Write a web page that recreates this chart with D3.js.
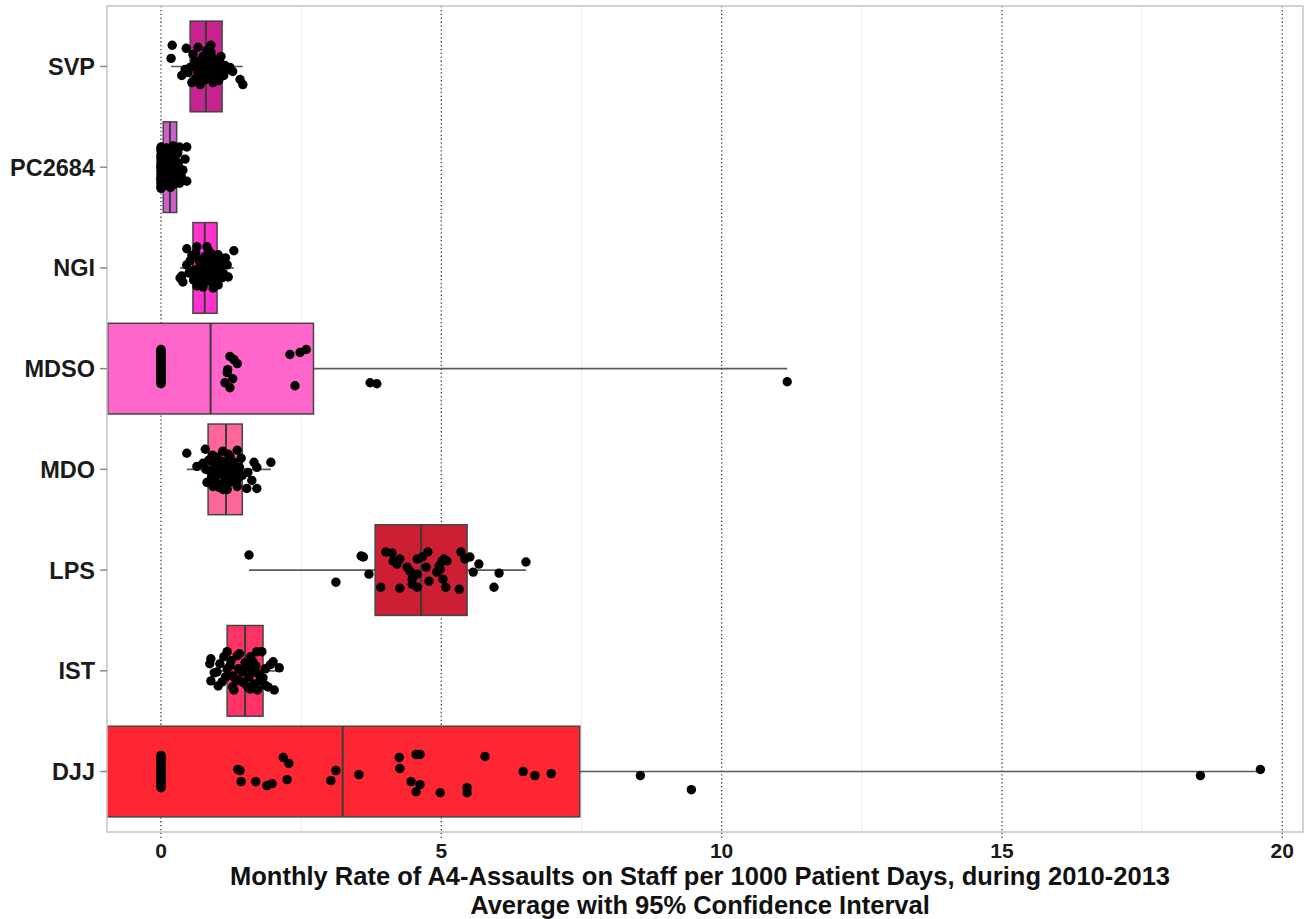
<!DOCTYPE html>
<html>
<head>
<meta charset="utf-8">
<script src="https://cdn.jsdelivr.net/npm/d3@7"></script>
<style>
  html, body { margin: 0; padding: 0; background: #ffffff; }
  svg { display: block; }
  text { font-family: "Liberation Sans", Arial, Helvetica, sans-serif; font-weight: bold; }
</style>
</head>
<body>
<svg id="chart" width="1313" height="919"></svg>
<script>
// Facilities, top to bottom
const categories = ["SVP", "PC2684", "NGI", "MDSO", "MDO", "LPS", "IST", "DJJ"];

// Fill colour of each facility's box
const fills = ["#c8238f", "#cc5fcc", "#ff33cc", "#ff66cc", "#ff6699", "#cc1f33", "#ff3366", "#ff2633"];

// Average monthly rate and its 95% confidence interval
const means = [0.80, 0.16, 0.78, 0.885, 1.16, 4.64, 1.50, 3.24];
const ciLow = [0.52, 0.04, 0.57, -0.95, 0.84, 3.82, 1.18, -0.98];
const ciHigh = [1.09, 0.28, 1.00, 2.72, 1.45, 5.46, 1.82, 7.47];

// Monthly rates: [rate, vertical jitter as a fraction of the category step]
const svpRates = [[0.20,-0.21],[0.18,-0.08],[0.45,-0.18],[0.66,-0.19],[0.89,-0.21],[0.57,-0.12],[0.75,-0.10],[0.37,0.09],[0.55,0.16],[0.70,0.18],[0.93,0.16],[1.05,-0.04],[1.19,0.03],[1.41,0.13],[1.46,0.18],[1.02,-0.05],[0.61,-0.05],[0.70,-0.01],[0.78,-0.07],[0.84,0.01],[0.87,0.05],[0.96,-0.02],[0.66,0.05],[0.73,0.11],[0.82,0.09],[0.91,-0.09],[1.00,0.07],[1.09,0.03],[1.14,-0.01],[0.52,0.01],[0.48,0.06],[0.62,0.12],[0.77,0.03],[0.95,0.12],[1.03,0.14],[0.86,-0.03],[0.71,-0.06],[0.80,0.13],[0.59,-0.01],[1.12,0.09],[1.23,0.01],[0.43,0.03],[0.89,-0.14],[0.98,0.02],[0.68,0.08],[0.82,-0.16],[1.07,-0.10],[1.28,0.05]];

const pc2684Rates = [[0,-0.20],[0,-0.16],[0,-0.12],[0,-0.08],[0,-0.05],[0,-0.02],[0,0.01],[0,0.04],[0,0.07],[0,0.10],[0,0.13],[0,0.16],[0,0.19],[0,0.21],[0,-0.18],[0,-0.10],[0,0.00],[0,0.12],[0.05,-0.14],[0.08,0.18],[0.09,-0.03],[0.10,0.09],[0.10,-0.19],[0.12,0.02],[0.12,0.15],[0.14,-0.11],[0.15,0.06],[0.15,-0.06],[0.17,0.20],[0.18,-0.16],[0.18,0.11],[0.20,-0.01],[0.20,0.08],[0.22,-0.21],[0.23,0.17],[0.25,-0.09],[0.26,0.04],[0.28,0.13],[0.30,-0.14],[0.32,0.00],[0.33,-0.20],[0.36,0.09],[0.30,-0.04],[0.33,0.16],[0.39,0.03],[0.43,-0.08],[0.46,0.14],[0.46,-0.20]];

const ngiRates = [[1.30,-0.17],[0.37,0.08],[0.34,0.10],[0.39,0.14],[0.46,-0.19],[0.64,-0.21],[0.82,-0.21],[1.02,-0.13],[1.18,-0.03],[0.52,-0.07],[0.70,0.15],[1.02,0.17],[0.87,0.10],[0.46,-0.03],[0.55,-0.12],[0.60,0.02],[0.62,-0.15],[0.66,0.06],[0.68,-0.08],[0.72,0.11],[0.74,-0.02],[0.76,0.04],[0.78,-0.11],[0.80,0.08],[0.82,0.00],[0.84,0.13],[0.86,-0.06],[0.88,0.05],[0.90,-0.14],[0.92,0.12],[0.94,-0.01],[0.96,0.07],[0.98,-0.09],[1.00,0.16],[1.04,0.02],[1.06,-0.06],[1.08,0.10],[1.10,-0.02],[1.12,0.06],[1.15,-0.10],[0.58,0.12],[0.64,0.18],[0.70,-0.04],[0.75,0.19],[0.85,-0.17],[0.93,0.20],[1.20,0.09],[0.50,0.05]];

const mdsoRates = [[0,-0.19],[0,-0.18],[0,-0.16],[0,-0.15],[0,-0.13],[0,-0.12],[0,-0.10],[0,-0.09],[0,-0.07],[0,-0.06],[0,-0.04],[0,-0.03],[0,-0.01],[0,0.00],[0,0.02],[0,0.03],[0,0.05],[0,0.06],[0,0.08],[0,0.09],[0,0.11],[0,0.12],[0,0.14],[0,0.15],[0,-0.17],[0,-0.08],[0,0.01],[0,0.10],[1.23,-0.12],[1.36,-0.05],[1.30,-0.09],[1.18,0.04],[1.19,0.01],[1.28,0.10],[1.14,0.14],[1.23,0.19],[2.30,-0.14],[2.48,-0.16],[2.59,-0.19],[2.39,0.17],[3.73,0.14],[3.85,0.15],[11.17,0.13]];

const mdoRates = [[0.46,-0.16],[1.96,-0.07],[1.66,-0.07],[1.71,-0.02],[1.55,0.03],[1.62,0.11],[1.53,0.19],[1.71,0.19],[1.36,-0.19],[1.36,0.17],[0.79,-0.20],[0.64,-0.03],[0.75,-0.06],[0.82,0.13],[0.93,0.17],[1.11,0.20],[1.18,0.20],[1.23,-0.13],[1.43,-0.11],[0.85,-0.09],[0.88,0.02],[0.90,0.08],[0.95,-0.04],[0.97,0.12],[1.00,-0.12],[1.02,0.05],[1.05,-0.01],[1.07,0.15],[1.09,-0.08],[1.12,0.03],[1.14,0.10],[1.16,-0.05],[1.18,0.07],[1.20,-0.15],[1.22,0.13],[1.25,0.00],[1.27,0.09],[1.30,-0.07],[1.32,0.04],[1.35,0.12],[1.40,-0.02],[1.45,0.06],[0.80,0.00],[0.92,-0.14],[1.10,-0.18],[1.38,0.08],[0.98,0.03],[1.04,0.18]];

const lpsRates = [[1.57,-0.15],[3.12,0.12],[3.57,-0.14],[3.61,-0.13],[3.71,0.04],[3.92,0.17],[4.01,-0.18],[4.12,-0.17],[4.14,-0.09],[4.21,-0.06],[4.26,-0.11],[4.26,0.18],[4.39,-0.03],[4.44,0.01],[4.50,0.06],[4.48,0.14],[4.57,0.17],[4.57,0.04],[4.57,-0.11],[4.66,-0.13],[4.76,-0.18],[4.73,-0.03],[4.78,0.11],[4.92,0.02],[4.96,-0.04],[5.01,-0.09],[5.05,-0.11],[5.10,-0.09],[5.03,0.09],[5.08,0.17],[5.32,0.19],[5.35,-0.18],[5.42,-0.11],[5.51,-0.13],[5.57,0.02],[5.67,-0.06],[5.94,0.17],[6.03,0.03],[6.51,-0.08],[4.48,0.09],[4.98,-0.01]];

const istRates = [[0.89,-0.12],[0.87,-0.07],[0.89,0.10],[1.09,0.11],[1.18,-0.19],[1.36,-0.15],[1.23,-0.05],[1.80,-0.19],[1.71,-0.19],[2.00,-0.09],[2.11,-0.03],[2.02,0.19],[1.91,0.16],[1.77,0.10],[1.59,0.18],[1.55,0.16],[1.28,0.16],[1.41,0.10],[1.05,-0.07],[1.00,0.01],[1.28,0.05],[1.64,-0.09],[1.86,-0.02],[1.62,0.01],[1.53,-0.04],[1.45,0.01],[1.18,-0.02],[1.15,0.06],[1.25,-0.10],[1.33,0.08],[1.38,-0.02],[1.48,0.12],[1.50,-0.08],[1.57,0.06],[1.66,0.13],[1.69,-0.05],[1.74,0.03],[1.82,0.07],[1.95,-0.06],[0.95,0.02],[1.12,-0.14],[1.40,-0.17],[1.60,-0.14],[1.85,0.14],[1.30,0.19],[1.72,0.19],[1.02,0.15]];

const djjRates = [[0,-0.16],[0,-0.14],[0,-0.12],[0,-0.10],[0,-0.08],[0,-0.06],[0,-0.04],[0,-0.02],[0,0.00],[0,0.02],[0,0.04],[0,0.06],[0,0.08],[0,0.10],[0,0.12],[0,0.14],[0,0.16],[0,-0.11],[1.37,-0.02],[1.41,-0.01],[1.43,0.10],[1.69,0.10],[1.89,0.14],[1.98,0.12],[2.18,-0.14],[2.28,-0.08],[2.25,0.08],[3.03,0.09],[3.12,-0.01],[3.53,0.03],[4.25,-0.14],[4.26,-0.03],[4.55,-0.17],[4.62,-0.17],[4.46,0.10],[4.62,0.13],[4.55,0.20],[4.98,0.21],[5.46,0.16],[5.46,0.21],[5.78,-0.15],[6.46,0.00],[6.67,0.04],[6.96,0.02],[8.55,0.04],[9.46,0.18],[18.54,0.04],[19.61,-0.02]];

const rateSets = [svpRates, pc2684Rates, ngiRates, mdsoRates, mdoRates, lpsRates, istRates, djjRates];

const xTicks = [0, 5, 10, 15, 20];
const xMinorTicks = [2.5, 7.5, 12.5, 17.5];
const titleLines = [
  "Monthly Rate of A4-Assaults on Staff per 1000 Patient Days, during 2010-2013",
  "Average with 95% Confidence Interval"
];

// ---- layout ----
const panel = { left: 107, right: 1303, top: 6, bottom: 832 };

const x = d3.scaleLinear().domain([-0.963, 20.37]).range([panel.left, panel.right]);
const y = d3.scalePoint().domain(categories).range([panel.top, panel.bottom]).padding(0.6);
const step = y.step();
const boxHalf = step * 0.45;

const rows = categories.map((c, i) => ({
  cat: c,
  fill: fills[i],
  mean: means[i],
  lo: ciLow[i],
  hi: ciHigh[i],
  pts: rateSets[i],
  ext: d3.extent(rateSets[i], d => d[0])
}));

const svg = d3.select("#chart");

svg.append("defs").append("clipPath").attr("id", "panel-clip")
  .append("rect")
  .attr("x", panel.left).attr("y", panel.top)
  .attr("width", panel.right - panel.left).attr("height", panel.bottom - panel.top);

// panel background
svg.append("rect")
  .attr("x", panel.left).attr("y", panel.top)
  .attr("width", panel.right - panel.left).attr("height", panel.bottom - panel.top)
  .attr("fill", "#ffffff");

// minor vertical grid
svg.append("g").selectAll("line").data(xMinorTicks).join("line")
  .attr("x1", d => x(d)).attr("x2", d => x(d))
  .attr("y1", panel.top).attr("y2", panel.bottom)
  .attr("stroke", "#ececec").attr("stroke-width", 1);

// major vertical grid (dotted), continuing down as the tick marks
svg.append("g").selectAll("line").data(xTicks).join("line")
  .attr("x1", d => x(d)).attr("x2", d => x(d))
  .attr("y1", panel.top).attr("y2", panel.bottom + 7)
  .attr("stroke", "#3a3a3a").attr("stroke-width", 1.3)
  .attr("stroke-dasharray", "1.3,2.6");

const plot = svg.append("g").attr("clip-path", "url(#panel-clip)");

// range of monthly rates
plot.append("g").selectAll("line").data(rows).join("line")
  .attr("x1", d => x(d.ext[0])).attr("x2", d => x(d.ext[1]))
  .attr("y1", d => y(d.cat)).attr("y2", d => y(d.cat))
  .attr("stroke", "#5a5a5a").attr("stroke-width", 1.6);

// 95% confidence interval boxes
plot.append("g").selectAll("rect").data(rows).join("rect")
  .attr("x", d => x(d.lo)).attr("width", d => x(d.hi) - x(d.lo))
  .attr("y", d => y(d.cat) - boxHalf).attr("height", boxHalf * 2)
  .attr("fill", d => d.fill)
  .attr("stroke", "#454545").attr("stroke-width", 1.5);

// averages
plot.append("g").selectAll("line").data(rows).join("line")
  .attr("x1", d => x(d.mean)).attr("x2", d => x(d.mean))
  .attr("y1", d => y(d.cat) - boxHalf).attr("y2", d => y(d.cat) + boxHalf)
  .attr("stroke", "#3a3a3a").attr("stroke-width", 2);

// monthly points, jittered vertically
plot.append("g").selectAll("g").data(rows).join("g")
  .selectAll("circle").data(d => d.pts.map(p => ({ v: p[0], j: p[1], cat: d.cat }))).join("circle")
  .attr("cx", d => x(d.v))
  .attr("cy", d => y(d.cat) + d.j * step)
  .attr("r", 4.7)
  .attr("fill", "#000000");

// panel border
svg.append("rect")
  .attr("x", panel.left).attr("y", panel.top)
  .attr("width", panel.right - panel.left).attr("height", panel.bottom - panel.top)
  .attr("fill", "none").attr("stroke", "#c4c4c4").attr("stroke-width", 1.5);

// y axis ticks and labels
const yAxis = svg.append("g");
yAxis.selectAll("line").data(categories).join("line")
  .attr("x1", panel.left - 7).attr("x2", panel.left)
  .attr("y1", d => y(d)).attr("y2", d => y(d))
  .attr("stroke", "#8a8a8a").attr("stroke-width", 1.5);
yAxis.selectAll("text").data(categories).join("text")
  .attr("x", panel.left - 12)
  .attr("y", d => y(d) + 8.5)
  .attr("text-anchor", "end")
  .attr("font-size", 23.5)
  .attr("fill", "#1a1a1a")
  .text(d => d);

// x tick labels
svg.append("g").selectAll("text").data(xTicks).join("text")
  .attr("x", d => x(d))
  .attr("y", panel.bottom + 26)
  .attr("text-anchor", "middle")
  .attr("font-size", 21)
  .attr("fill", "#1a1a1a")
  .text(d => d);

// axis title
svg.append("g").selectAll("text").data(titleLines).join("text")
  .attr("x", 700)
  .attr("y", (d, i) => 885 + i * 28.5)
  .attr("text-anchor", "middle")
  .attr("font-size", 25.5)
  .attr("fill", "#111111")
  .text(d => d);
</script>
</body>
</html>
